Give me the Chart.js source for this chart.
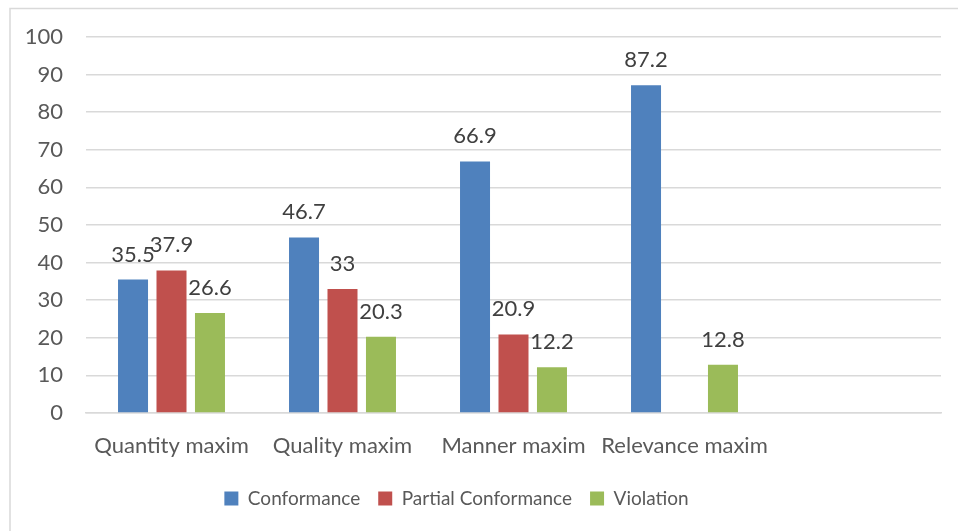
<!DOCTYPE html>
<html>
<head>
<meta charset="utf-8">
<title>Maxim conformance</title>
<script src="https://cdn.jsdelivr.net/npm/chart.js@4/dist/chart.umd.min.js"></script>
<style>
  html, body { margin: 0; padding: 0; background: #ffffff; }
  #wrap { position: relative; width: 958px; height: 531px; }
</style>
</head>
<body>
<div id="wrap"><canvas id="chart" width="958" height="531"></canvas></div>
<script>
// Categories along the x axis (the last slot is an empty spacer category)
const categories = ['Quantity maxim', 'Quality maxim', 'Manner maxim', 'Relevance maxim', ''];

// Series values (percent)
const conformance        = [35.5, 46.7, 66.9, 87.2, null];
const partialConformance = [37.9, 33,   20.9, null, null];
const violation          = [26.6, 20.3, 12.2, 12.8, null];

// Series names and colours
const seriesNames  = ['Conformance', 'Partial Conformance', 'Violation'];
const seriesColors = ['#4F81BD', '#C0504D', '#9BBB59'];

// Value axis ticks
const yTicks = [0, 10, 20, 30, 40, 50, 60, 70, 80, 90, 100];

const FONT_FAMILY = 'Lato, "Open Sans", sans-serif';
const AXIS_TEXT = '#595959';
const GRID = '#d9d9d9';

// Light frame around the whole chart
const framePlugin = {
  id: 'frame',
  beforeDraw(chart) {
    const ctx = chart.ctx;
    ctx.save();
    ctx.fillStyle = '#ffffff';
    ctx.fillRect(0, 0, chart.width, chart.height);
    ctx.strokeStyle = GRID;
    ctx.lineWidth = 1.5;
    ctx.beginPath();
    ctx.moveTo(10, chart.height + 2);
    ctx.lineTo(10, 8.5);
    ctx.lineTo(chart.width + 2, 8.5);
    ctx.stroke();
    ctx.restore();
  }
};

// Nudge the legend a little to the left of the canvas centre
const legendShiftPlugin = {
  id: 'legendShift',
  afterLayout(chart) {
    const lg = chart.legend;
    if (!lg) return;
    lg.left -= 14;
    lg.right -= 14;
  }
};

// Value labels above each bar
const valueLabelPlugin = {
  id: 'valueLabels',
  afterDatasetsDraw(chart) {
    const ctx = chart.ctx;
    ctx.save();
    ctx.font = '22px ' + FONT_FAMILY;
    ctx.fillStyle = '#404040';
    ctx.textAlign = 'center';
    ctx.textBaseline = 'alphabetic';
    chart.data.datasets.forEach((ds, i) => {
      const meta = chart.getDatasetMeta(i);
      meta.data.forEach((bar, j) => {
        const v = ds.data[j];
        if (v === null || v === undefined) return;
        ctx.fillText(String(v), bar.x, bar.y - 18);
      });
    });
    ctx.restore();
  }
};

const seriesData = [conformance, partialConformance, violation];

new Chart(document.getElementById('chart'), {
  type: 'bar',
  data: {
    labels: categories,
    datasets: seriesData.map((d, i) => ({
      label: seriesNames[i],
      data: d,
      backgroundColor: seriesColors[i],
      borderWidth: 0,
      categoryPercentage: 0.675,
      barPercentage: 0.78
    }))
  },
  options: {
    responsive: false,
    animation: false,
    devicePixelRatio: 1,
    layout: { padding: { left: 0, top: 37, right: 17, bottom: 13 } },
    plugins: {
      legend: {
        position: 'bottom',
        labels: {
          boxWidth: 14,
          boxHeight: 14,
          padding: 18,
          color: AXIS_TEXT,
          font: { family: FONT_FAMILY, size: 19 }
        }
      },
      tooltip: { enabled: false }
    },
    scales: {
      x: {
        grid: { display: false, drawTicks: false },
        border: { display: true, color: GRID, width: 1.5 },
        ticks: {
          color: AXIS_TEXT,
          padding: 20,
          maxRotation: 0,
          autoSkip: false,
          font: { family: FONT_FAMILY, size: 22 }
        },
        afterFit(scale) { scale.height = 58; }
      },
      y: {
        min: 0,
        max: 100,
        grid: { color: GRID, lineWidth: 1.5, drawTicks: false },
        border: { display: false },
        afterBuildTicks(scale) { scale.ticks = yTicks.map(v => ({ value: v })); },
        ticks: {
          color: AXIS_TEXT,
          padding: 23,
          font: { family: FONT_FAMILY, size: 22 }
        },
        afterFit(scale) { scale.width = 86; }
      }
    }
  },
  plugins: [framePlugin, legendShiftPlugin, valueLabelPlugin]
});
</script>
</body>
</html>
